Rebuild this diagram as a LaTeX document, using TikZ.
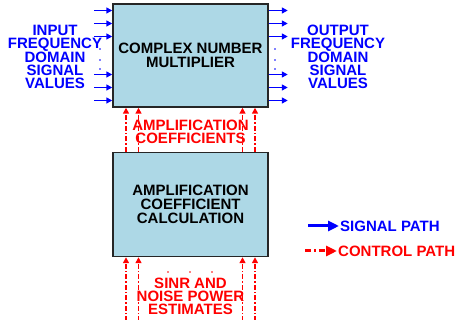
\documentclass[tikz,border=0pt]{standalone}
\usepackage{fontspec}
\setmainfont{Liberation Sans}
\usetikzlibrary{positioning,arrows.meta}
\definecolor{boxblue}{RGB}{173,216,230}

\begin{document}
\begin{tikzpicture}[x=1pt,y=-1pt,
  >={Triangle[length=6pt,width=6pt]},
  blk/.style={draw=black!85,line width=1.5pt,fill=boxblue,minimum width=155pt,minimum height=103pt,align=center,font=\fontsize{15}{14}\selectfont\bfseries},
  lbl/.style={align=center,inner sep=1pt,font=\fontsize{15}{13}\selectfont\bfseries},
  sig/.style={->,blue,line width=1.8pt},
  ctl/.style={->,red,line width=1.5pt,dash pattern=on 5pt off 2pt on 1.5pt off 2pt}]
\useasboundingbox (0,0) rectangle (456,320);
% blocks
\node[blk] (mult) at (190.5,55.5) {COMPLEX NUMBER\\MULTIPLIER};
\node[blk,below=44pt of mult,minimum height=104pt] (calc) {AMPLIFICATION\\COEFFICIENT\\CALCULATION};
% side texts
\node[lbl,text=blue] (inlbl) at (55,57) {INPUT\\FREQUENCY\\DOMAIN\\SIGNAL\\VALUES};
\node[lbl,text=blue] (outlbl) at (338,57) {OUTPUT\\FREQUENCY\\DOMAIN\\SIGNAL\\VALUES};
% signal arrows in and out
\foreach \d/\n in {45/1,32/2,19/3,-19/4,-32/5,-45/6}{
  \coordinate (in\n) at ([xshift=-18pt,yshift=\d pt]mult.west);
  \coordinate (out\n) at ([xshift=19pt,yshift=\d pt]mult.east);
  \draw[sig] (in\n) -- (in\n -| mult.west);
  \draw[sig] (out\n -| mult.east) -- (out\n);
}
\foreach \y in {49,60,69}{
  \fill[blue] (100,\y) circle (0.8);
  \fill[blue] (275,\y) circle (0.8);
}
% control arrows
\foreach \dx/\n in {-64.5/1,-52/2,52/3,64.5/4}{
  \coordinate (est\n) at ([xshift=\dx pt,yshift=-64pt]calc.south);
  \draw[ctl] ([xshift=\dx pt]calc.north) -- ([xshift=\dx pt]mult.south);
  \draw[ctl] (est\n) -- (est\n |- calc.south);
}
\foreach \x in {168,190,212}
  \fill[red] (\x,272) circle (0.8);
\node[lbl,text=red] (coef) at (190.5,132) {AMPLIFICATION\\COEFFICIENTS};
\node[lbl,text=red] (sinr) at (190.5,296) {SINR AND\\NOISE POWER\\ESTIMATES};
% legend
\node[lbl,text=blue,anchor=west] (siglbl) at (339,226) {SIGNAL PATH};
\node[lbl,text=red,anchor=west] (ctllbl) at (337,251) {CONTROL PATH};
\coordinate[left=31pt of siglbl.west] (sigstart);
\coordinate[left=32pt of ctllbl.west] (ctlstart);
\draw[blue,line width=3pt,-{Triangle[length=11pt,width=10pt]}] (sigstart) -- (siglbl.west);
\draw[red,line width=3pt,dash pattern=on 6pt off 3pt on 2pt off 3pt,-{Triangle[length=11pt,width=10pt]}] (ctlstart) -- (ctllbl.west);
\end{tikzpicture}
\end{document}
